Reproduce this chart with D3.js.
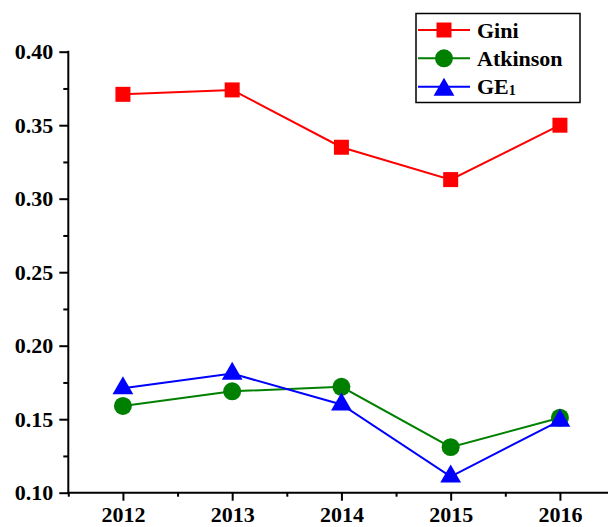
<!DOCTYPE html>
<html>
<head>
<meta charset="utf-8">
<script src="https://cdn.jsdelivr.net/npm/d3@7"></script>
<style>
  html, body { margin: 0; padding: 0; background: #fff; }
  svg { display: block; }
  text { font-family: "Liberation Serif", "Times New Roman", serif; font-weight: bold; fill: #000; }
</style>
</head>
<body>
<svg id="chart" width="609" height="527"></svg>
<script>
// Inequality indices by year
const years = [2012, 2013, 2014, 2015, 2016];
const gini = [0.371, 0.374, 0.335, 0.313, 0.350];
const atkinson = [0.159, 0.169, 0.172, 0.131, 0.151];
const ge1 = [0.171, 0.181, 0.160, 0.111, 0.149];

const yTicks = [0.10, 0.15, 0.20, 0.25, 0.30, 0.35, 0.40];
const yMinorTicks = [0.125, 0.175, 0.225, 0.275, 0.325, 0.375];
const xMinorTicks = [2011.5, 2012.5, 2013.5, 2014.5, 2015.5];

const seriesNames = ["Gini", "Atkinson", "GE"];
const seriesColors = ["#ff0000", "#008000", "#0000ff"];

const series = [
  { name: seriesNames[0], values: gini, color: seriesColors[0], shape: d3.symbolSquare, size: 225 },
  { name: seriesNames[1], values: atkinson, color: seriesColors[1], shape: d3.symbolCircle, size: 254 },
  { name: seriesNames[2], values: ge1, color: seriesColors[2], shape: d3.symbolTriangle, size: 187 }
];

const svg = d3.select("#chart");

const x = d3.scaleLinear().domain([2011.5, 2016.44]).range([68.3, 608]);
const y = d3.scaleLinear().domain([0.10, 0.40]).range([492.7, 51.7]);

// Y axis: major ticks with labels, minor ticks without
const yAxis = svg.append("g").attr("transform", `translate(${x(2011.5)},0)`)
  .call(d3.axisLeft(y).tickValues(yTicks).tickFormat(d3.format(".2f")).tickSize(9).tickPadding(6));
svg.append("g").attr("transform", `translate(${x(2011.5)},0)`)
  .call(d3.axisLeft(y).tickValues(yMinorTicks).tickFormat("").tickSize(5))
  .select(".domain").remove();

// X axis
const xAxis = svg.append("g").attr("transform", `translate(0,${y(0.10)})`)
  .call(d3.axisBottom(x).tickValues(years).tickFormat(d3.format("d")).tickSize(8).tickPadding(6));
svg.append("g").attr("transform", `translate(0,${y(0.10)})`)
  .call(d3.axisBottom(x).tickValues(xMinorTicks).tickFormat("").tickSize(4))
  .select(".domain").remove();

svg.selectAll(".domain").attr("d", null);
yAxis.select(".domain").remove();
xAxis.select(".domain").remove();
svg.append("line")
  .attr("x1", x(2011.5)).attr("x2", x(2011.5))
  .attr("y1", y(0.40) - 1).attr("y2", y(0.10) + 1)
  .attr("stroke", "#000").attr("stroke-width", 2);
svg.append("line")
  .attr("x1", x(2011.5) - 1).attr("x2", x(2016.44))
  .attr("y1", y(0.10)).attr("y2", y(0.10))
  .attr("stroke", "#000").attr("stroke-width", 2);

svg.selectAll(".tick line").attr("stroke", "#000").attr("stroke-width", 2);
svg.selectAll(".tick text").style("font-size", "22px").style("font-family", "'Liberation Serif', serif").style("font-weight", "bold");

// Lines and markers
const line = d3.line().x((d, i) => x(years[i])).y(d => y(d));
series.forEach(s => {
  svg.append("path").datum(s.values)
    .attr("d", line).attr("fill", "none")
    .attr("stroke", s.color).attr("stroke-width", 2);
});
series.forEach(s => {
  svg.append("g").selectAll("path").data(s.values).join("path")
    .attr("transform", (d, i) => `translate(${x(years[i])},${y(d)})`)
    .attr("d", d3.symbol().type(s.shape).size(s.size))
    .attr("fill", s.color);
});

// Legend
const legend = svg.append("g");
legend.append("rect")
  .attr("x", 416).attr("y", 13.5).attr("width", 164).attr("height", 89)
  .attr("fill", "#fff").attr("stroke", "#000").attr("stroke-width", 1.5);
const rowY = [30, 58.3, 86.7];
series.forEach((s, i) => {
  const g = legend.append("g").attr("transform", `translate(0,${rowY[i]})`);
  g.append("line").attr("x1", 418).attr("x2", 470).attr("y1", 0).attr("y2", 0)
    .attr("stroke", s.color).attr("stroke-width", 2);
  const dy = s.shape === d3.symbolTriangle ? 3 : 0;
  g.append("path").attr("transform", `translate(444,${dy})`)
    .attr("d", d3.symbol().type(s.shape).size(s.size)).attr("fill", s.color);
  const t = g.append("text").attr("x", 477).attr("y", 7.5).style("font-size", "22px");
  t.append("tspan").text(s.name);
  if (i === 2) t.append("tspan").style("font-size", "14px").attr("dy", 1).text("1");
});
</script>
</body>
</html>
